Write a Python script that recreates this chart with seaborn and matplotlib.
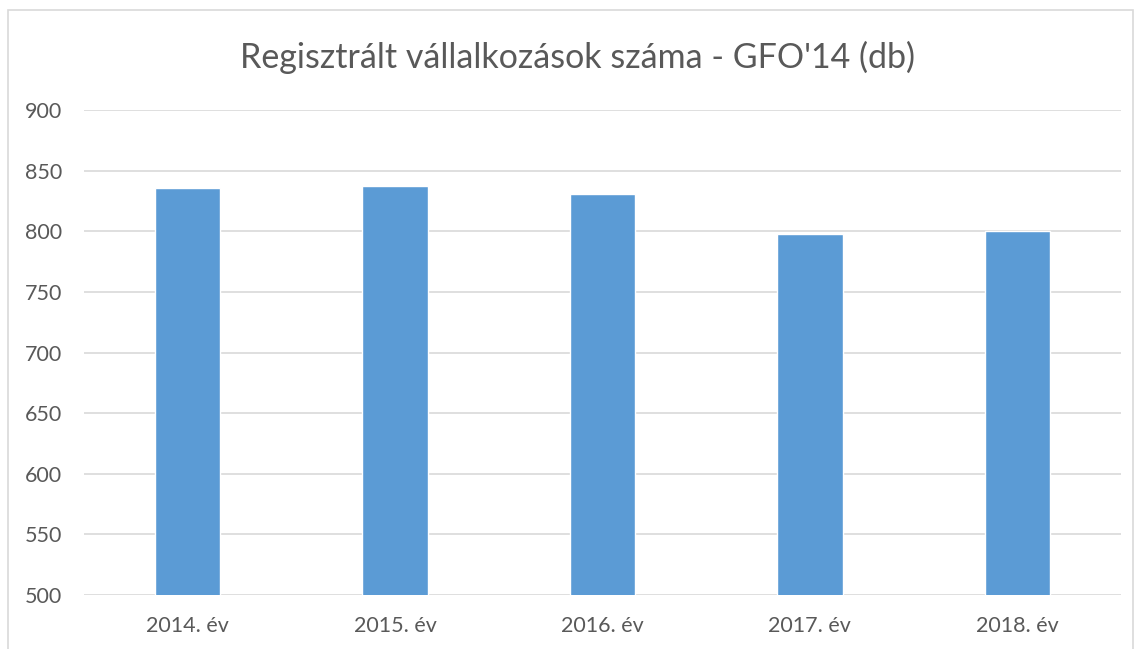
import matplotlib
matplotlib.use("Agg")
import matplotlib.pyplot as plt
import seaborn as sns
import pandas as pd
from matplotlib.patches import Rectangle

# data
years = ['2014. év', '2015. év', '2016. év', '2017. év', '2018. év']
counts = [836, 837, 831, 798, 800]

df = pd.DataFrame({'ev': years, 'db': counts})

sns.set_style('white')
plt.rcParams['font.family'] = ['Lato', 'DejaVu Sans']

fig = plt.figure(figsize=(11.37, 6.49), dpi=100)
ax = fig.add_axes([0.0739, 0.0832, 0.912, 0.7473])

sns.barplot(data=df, x='ev', y='db', color='#5B9BD5', width=0.315,
            saturation=1, ax=ax, zorder=3)

ax.set_ylim(500, 900)
ax.set_yticks(range(500, 901, 50))
ax.yaxis.grid(True, color='#D9D9D9', linewidth=1.2, zorder=0)
ax.set_axisbelow(True)
for s in ax.spines.values():
    s.set_visible(False)
ax.set_xlabel('')
ax.set_ylabel('')
ax.tick_params(axis='both', length=0, labelsize=15.5, labelcolor='#595959')
ax.tick_params(axis='y', pad=16)
ax.tick_params(axis='x', pad=15)

fig.text(577.5 / 1137, 1 - 57 / 649, "Regisztrált vállalkozások száma - GFO'14 (db)",
         ha='center', va='center', fontsize=24.5, color='#595959')

# light border around the chart area
fig.patches.append(Rectangle((8 / 1137, -0.05), 1125 / 1137, 1.05 - 10 / 649,
                             transform=fig.transFigure, fill=False,
                             edgecolor='#D9D9D9', linewidth=1.2))

fig.savefig('out.png', dpi=100)
